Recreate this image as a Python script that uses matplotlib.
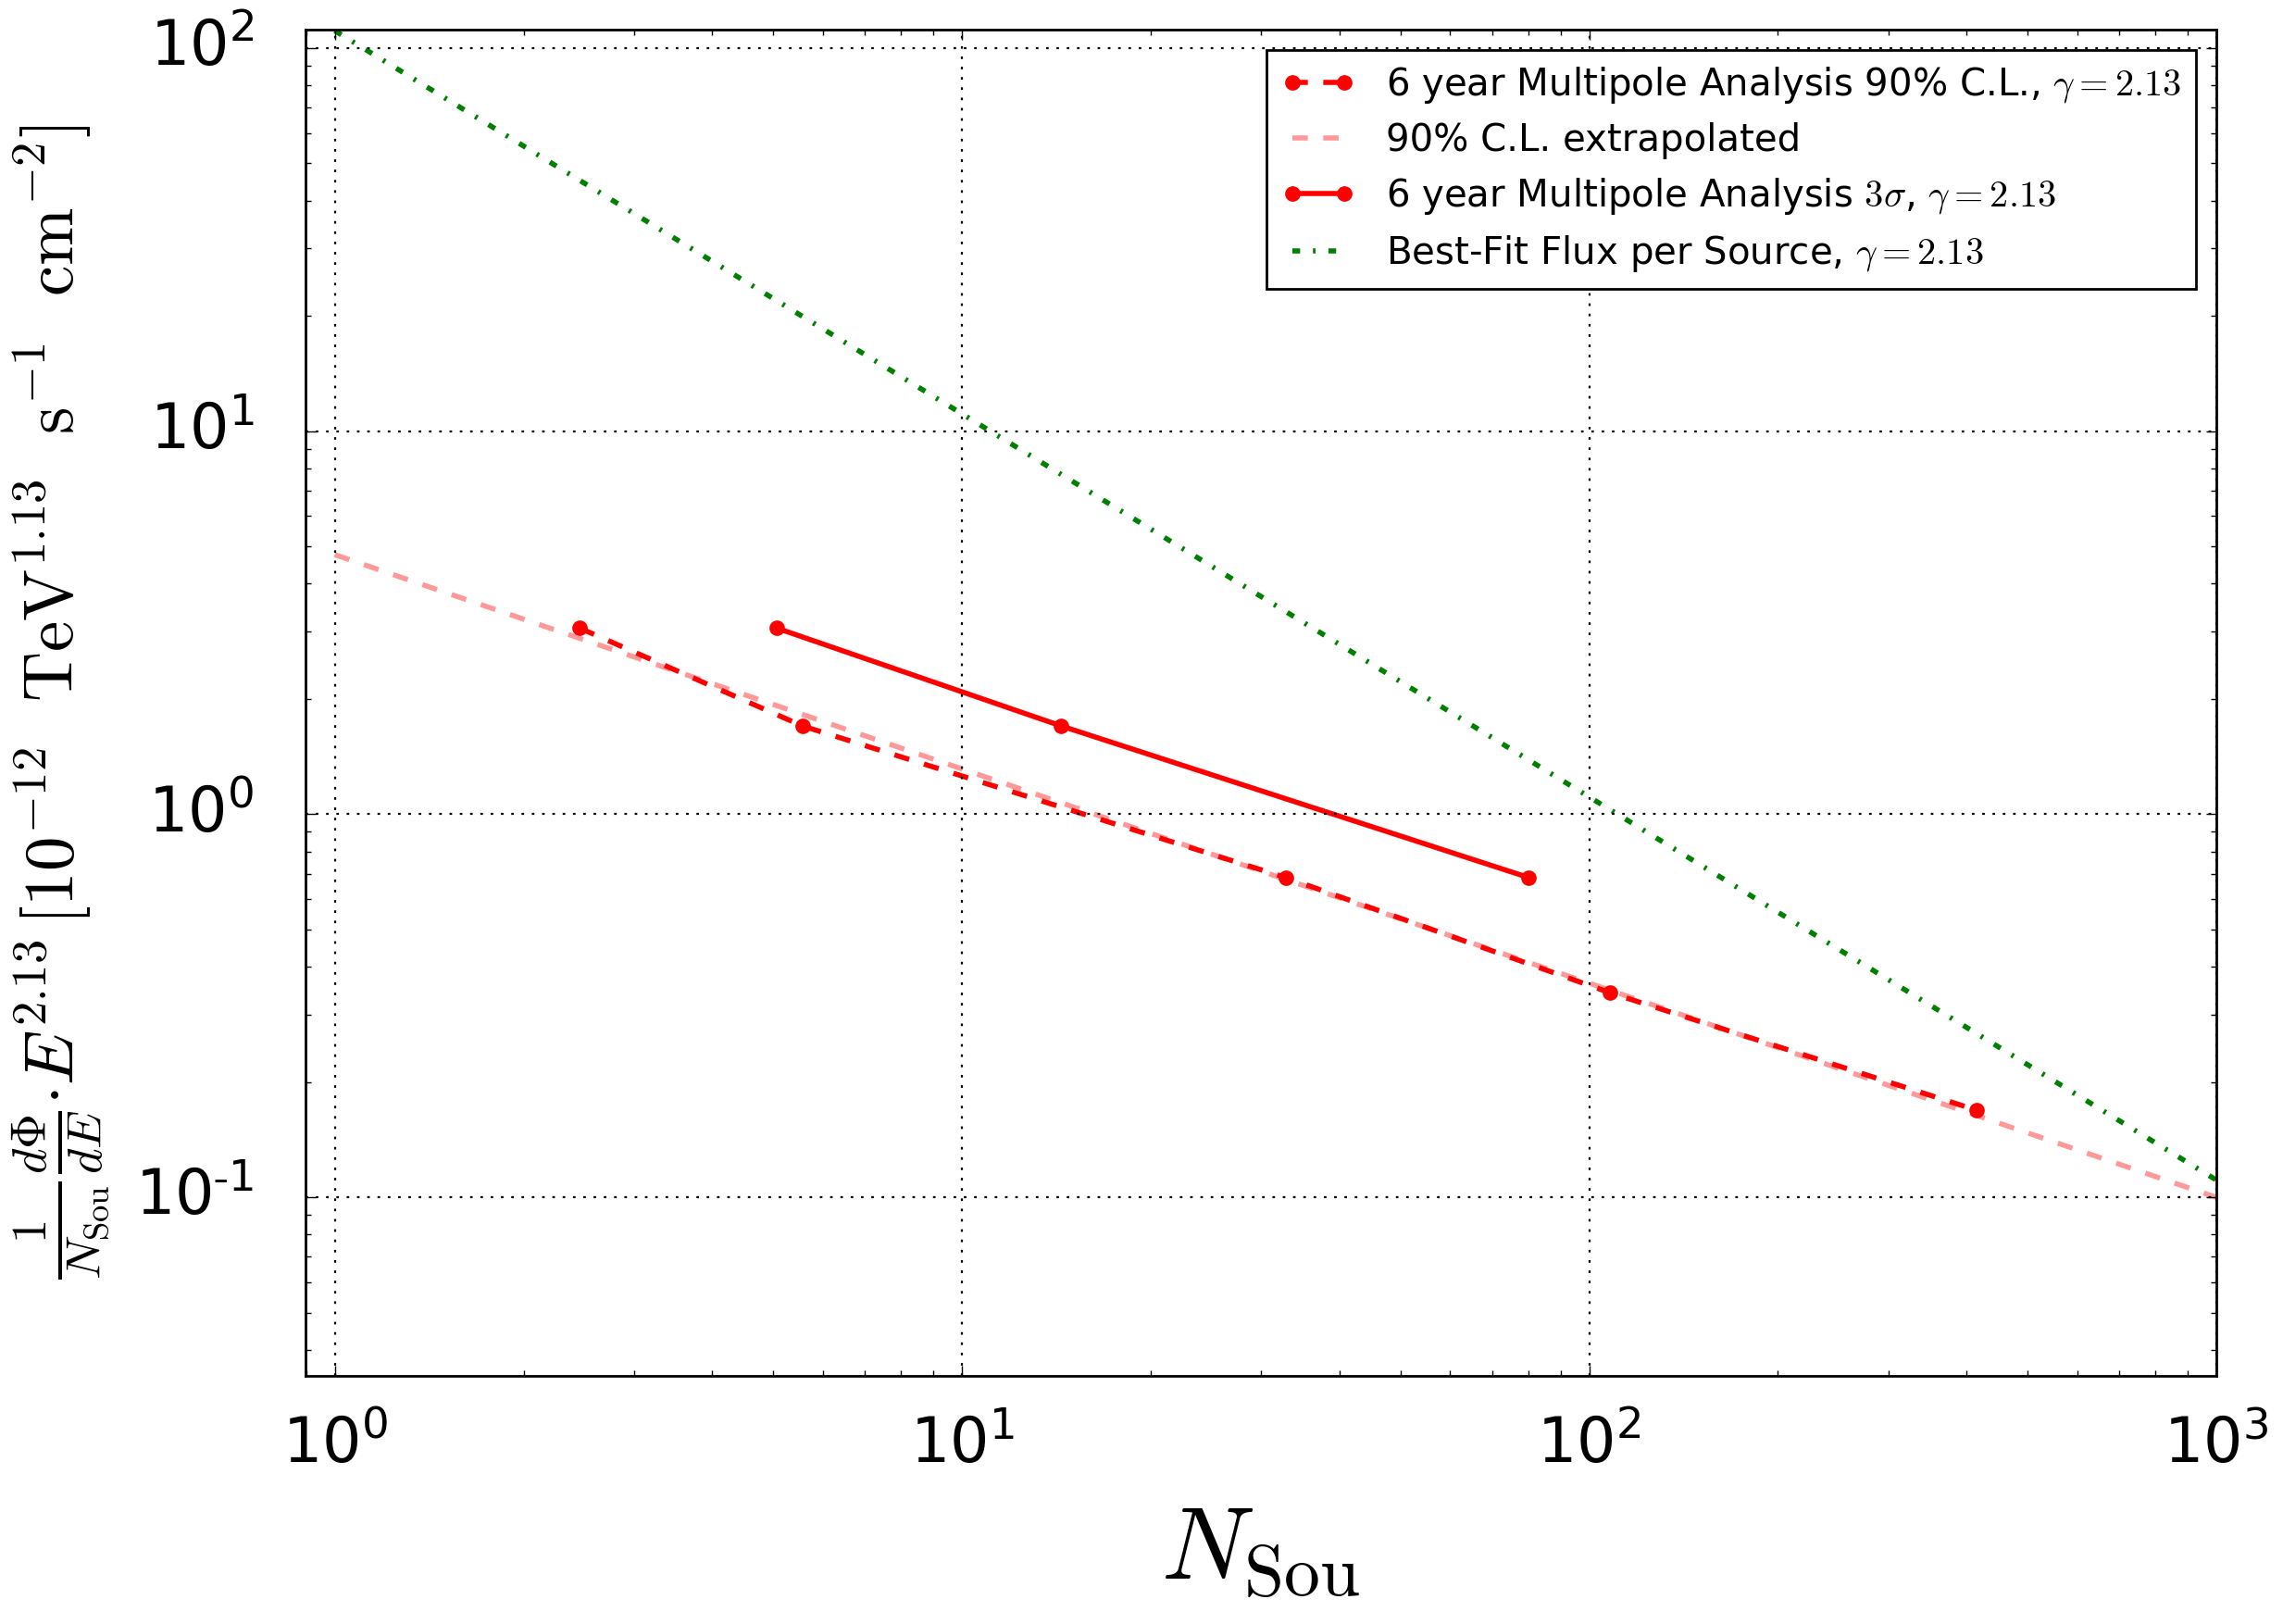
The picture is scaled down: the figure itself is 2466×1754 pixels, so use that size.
import matplotlib
matplotlib.use("Agg")
import matplotlib.pyplot as plt
from matplotlib.ticker import FuncFormatter, LogLocator
import numpy as np

plt.style.use("classic")
plt.rcParams["figure.facecolor"] = "white"
plt.rcParams["savefig.facecolor"] = "white"
plt.rcParams["mathtext.fontset"] = "cm"
plt.rcParams["axes.unicode_minus"] = False
plt.rcParams["font.family"] = ["DejaVu Sans"]

# ---- data ----
cl90_n = [2.46, 5.57, 32.8, 108.0, 414.0]
cl90_flux = [3.06, 1.70, 0.684, 0.342, 0.169]

sig3_n = [5.07, 14.4, 80.0]
sig3_flux = [3.06, 1.70, 0.684]

extrap_n = [1.0, 1000.0]
extrap_flux = [4.76, 0.100]

bestfit_n = [1.0, 1000.0]
bestfit_flux = [111.0, 0.111]

labels = [
    r"6 year Multipole Analysis 90% C.L., $\gamma=2.13$",
    r"90% C.L. extrapolated",
    r"6 year Multipole Analysis $3\sigma$, $\gamma=2.13$",
    r"Best-Fit Flux per Source, $\gamma=2.13$",
]


def log_fmt(v, pos):
    e = int(round(np.log10(v)))
    if e < 0:
        return r"$\mathdefault{10^{\text{-}%d}}$" % (-e)
    return r"$\mathdefault{10^{%d}}$" % e


fig = plt.figure(figsize=(12.33, 8.77), dpi=200)
ax = fig.add_axes([0.1338, 0.1528, 0.9708 - 0.1338, 0.982 - 0.1528])

ax.plot(cl90_n, cl90_flux, color="r", ls="--", lw=2, marker="o", ms=5.5,
        mec="r", label=labels[0])
ax.plot(extrap_n, extrap_flux, color="r", alpha=0.4, ls="--", lw=2,
        label=labels[1])
ax.plot(sig3_n, sig3_flux, color="r", ls="-", lw=2, marker="o", ms=5.5,
        mec="r", label=labels[2])
ax.plot(bestfit_n, bestfit_flux, color="g", ls="-.", lw=2, label=labels[3])

ax.set_xscale("log")
ax.set_yscale("log")
ax.set_xlim(0.898, 1000)
ax.set_ylim(0.0342, 112)
ax.yaxis.set_major_formatter(FuncFormatter(log_fmt))
ax.xaxis.set_major_formatter(FuncFormatter(log_fmt))

ax.grid(True, which="major", color="k", ls=":", lw=0.8)

ax.tick_params(axis="both", which="major", labelsize=24)
ax.tick_params(axis="y", which="major", pad=20)
ax.tick_params(axis="x", which="major", pad=15)

ax.set_xlabel(r"$N_{\rm Sou}$", fontsize=40, labelpad=10)
ax.set_ylabel(r"$\frac{1}{N_{\rm Sou}}\frac{d\Phi}{dE}{\cdot}E^{2.13}\,[10^{-12}\ \ \rm TeV^{1.13}\ \ s^{-1}\ \ cm^{-2}]$",
              fontsize=27)
ax.yaxis.set_label_coords(-0.101, 0.5)

leg = ax.legend(loc="upper right", fontsize=14.5, numpoints=2,
                fancybox=False, borderaxespad=0.55, labelspacing=0.45)
leg.get_frame().set_edgecolor("k")

fig.savefig("out.png", dpi=200)
